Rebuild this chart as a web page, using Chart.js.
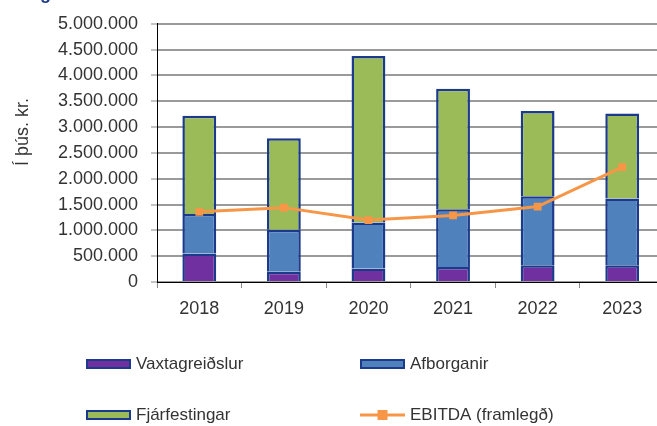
<!DOCTYPE html>
<html><head><meta charset="utf-8">
<script src="https://cdn.jsdelivr.net/npm/chart.js@4/dist/chart.umd.min.js"></script>
<style>
html,body{margin:0;padding:0;background:#fff;overflow:hidden;width:657px;height:426px}
#wrap{position:relative;width:670px;height:426px}
canvas{display:block}
</style></head><body>
<div id="wrap"><canvas id="c" width="670" height="426"></canvas></div>
<script>
// ---- data ----
const years = ['2018', '2019', '2020', '2021', '2022', '2023'];
const vaxtagreidslur = [550000, 200000, 260000, 290000, 325000, 325000];
const afborganir = [765000, 810000, 890000, 1120000, 1335000, 1290000];
const fjarfestingar = [1905000, 1773000, 3228000, 2331000, 1651000, 1647000];
const ebitda = [1360000, 1440000, 1200000, 1290000, 1460000, 2225000];
const yTickValues = [0, 500000, 1000000, 1500000, 2000000, 2500000, 3000000, 3500000, 4000000, 4500000, 5000000];
const yTickLabels = ['0', '500.000', '1.000.000', '1.500.000', '2.000.000', '2.500.000', '3.000.000', '3.500.000', '4.000.000', '4.500.000', '5.000.000'];
const seriesNames = ['Vaxtagreiðslur', 'Afborganir', 'Fjárfestingar', 'EBITDA (framlegð)'];
const yAxisTitle = 'Í þús. kr.';
const titleFragment = 'g';

const FONT = '"Liberation Sans", Arial, sans-serif';
const TXT = '#333333';
const EDGE = '#1c3a8c';

const extras = {
  id: 'extras',
  afterDraw(chart) {
    const ctx = chart.ctx;
    ctx.save();
    // cut-off title fragment
    ctx.fillStyle = '#1f3c88';
    ctx.font = 'bold 18px ' + FONT;
    ctx.textBaseline = 'alphabetic';
    ctx.textAlign = 'left';
    ctx.fillText(titleFragment, 40, -1);
    // y axis title
    ctx.fillStyle = TXT;
    ctx.font = '18px ' + FONT;
    ctx.translate(23, 132);
    ctx.rotate(-Math.PI / 2);
    ctx.textAlign = 'center';
    ctx.textBaseline = 'middle';
    ctx.fillText(yAxisTitle, 0, 0);
    ctx.restore();

    // legend (2 columns x 2 rows)
    const pos = [[86, 364], [360, 364], [86, 415], [360, 415]];
    chart.data.datasets.forEach((ds, i) => {
      const [x, y] = pos[i];
      ctx.save();
      if (ds.type === 'line') {
        ctx.strokeStyle = ds.borderColor;
        ctx.lineWidth = 3;
        ctx.beginPath(); ctx.moveTo(x, y); ctx.lineTo(x + 45, y); ctx.stroke();
        ctx.fillStyle = ds.pointBackgroundColor;
        ctx.fillRect(x + 22.5 - 5, y - 5, 10, 10);
      } else {
        ctx.fillStyle = ds.backgroundColor;
        ctx.fillRect(x, y - 5, 45, 10);
        ctx.strokeStyle = ds.borderColor;
        ctx.lineWidth = 2;
        ctx.strokeRect(x + 1, y - 4, 43, 8);
      }
      ctx.fillStyle = TXT;
      ctx.font = '17px ' + FONT;
      ctx.textAlign = 'left';
      ctx.textBaseline = 'middle';
      ctx.fillText(ds.label, x + 50, y);
      ctx.restore();
    });
  }
};

const barStyle = { borderColor: EDGE, borderWidth: 2.5, borderSkipped: 'start', inflateAmount: 0, order: 1 };

new Chart(document.getElementById('c'), {
  type: 'bar',
  data: {
    labels: years,
    datasets: [
      Object.assign({ label: seriesNames[0], data: vaxtagreidslur, backgroundColor: '#7030a0' }, barStyle),
      Object.assign({ label: seriesNames[1], data: afborganir, backgroundColor: '#4f81bd' }, barStyle),
      Object.assign({ label: seriesNames[2], data: fjarfestingar, backgroundColor: '#9bbb59' }, barStyle),
      { type: 'line', label: seriesNames[3], data: ebitda, borderColor: '#f79646', backgroundColor: '#f79646',
        pointBackgroundColor: '#f79646', pointBorderColor: '#f79646', borderWidth: 3, pointStyle: 'rect',
        pointRadius: 5.5, pointBorderWidth: 0, tension: 0, fill: false, order: 0 }
    ]
  },
  options: {
    responsive: false,
    animation: false,
    devicePixelRatio: 1,
    layout: { padding: { top: 20, right: 4, left: 0, bottom: 104 } },
    plugins: { legend: { display: false }, tooltip: { enabled: false }, title: { display: false } },
    datasets: { bar: { barPercentage: 0.40, categoryPercentage: 1.0 } },
    scales: {
      x: {
        stacked: true,
        grid: { display: true, drawOnChartArea: false, drawTicks: true, tickLength: 6, tickColor: '#888888', offset: true },
        border: { display: true, color: '#000000', width: 1 },
        ticks: { color: TXT, font: { family: FONT, size: 18 }, padding: 10, maxRotation: 0 },
        afterFit(s) { s.height = 40; }
      },
      y: {
        stacked: true,
        min: 0, max: 5000000,
        afterBuildTicks(s) { s.ticks = yTickValues.map(v => ({ value: v })); },
        grid: { color: '#9a9a9a', lineWidth: 2, drawTicks: true, tickLength: 6, tickColor: '#888888', tickWidth: 1 },
        border: { display: true, color: '#000000', width: 1 },
        ticks: {
          color: TXT, font: { family: FONT, size: 18 }, padding: 13,
          callback(v) { const i = yTickValues.indexOf(v); return i >= 0 ? yTickLabels[i] : ''; }
        },
        afterFit(s) { s.width = 157; }
      }
    }
  },
  plugins: [extras]
});
</script>
</body></html>
